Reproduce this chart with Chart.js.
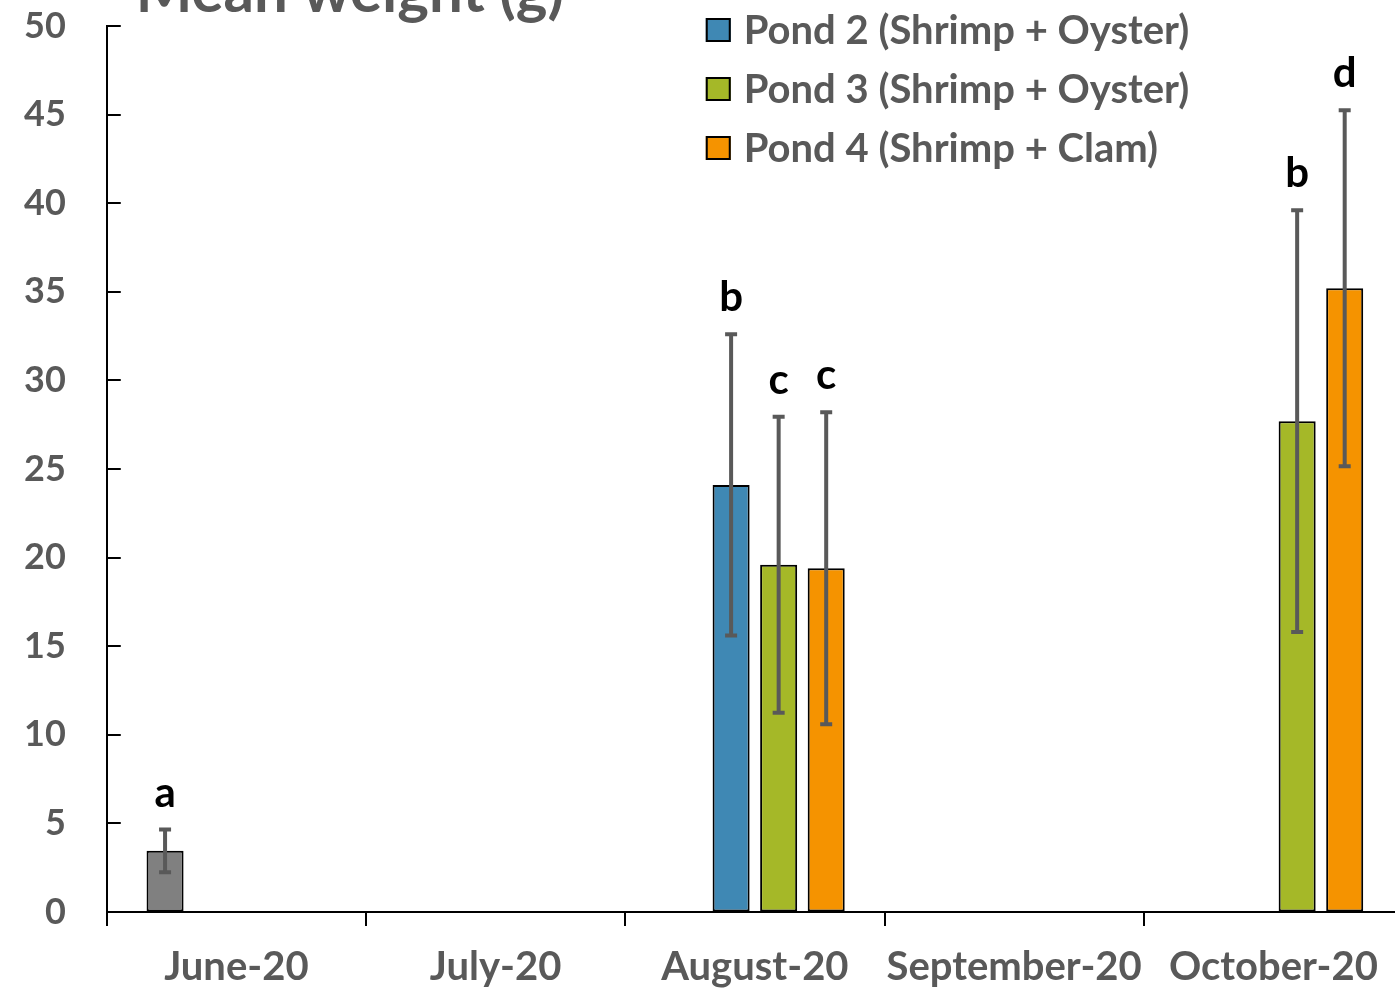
<!DOCTYPE html>
<html>
<head>
<meta charset="utf-8">
<script src="https://cdn.jsdelivr.net/npm/chart.js@4.4.1/dist/chart.umd.min.js"></script>
<style>
  html, body { margin: 0; padding: 0; overflow: hidden; background: #fff; }
  #wrap { position: absolute; left: 0; top: 0; width: 1410px; height: 1013px; }
</style>
</head>
<body>
<div id="wrap"><canvas id="c"></canvas></div>
<script>
// Sampling months
const months = ['June-20', 'July-20', 'August-20', 'September-20', 'October-20'];

// Mean shrimp weight (g) per pond and month, with standard deviations
const initialWeight = [3.45, null, null, null, null];
const initialSd     = [1.2,  null, null, null, null];
const pond2Weight   = [null, null, 24.1, null, null];
const pond2Sd       = [null, null, 8.5,  null, null];
const pond3Weight   = [null, null, 19.6, null, 27.7];
const pond3Sd       = [null, null, 8.35, null, 11.9];
const pond4Weight   = [null, null, 19.4, null, 35.2];
const pond4Sd       = [null, null, 8.8,  null, 10.05];

// Significance letters shown over each bar
const initialLetters = ['a', '', '', '', ''];
const pond2Letters   = ['', '', 'b', '', ''];
const pond3Letters   = ['', '', 'c', '', 'b'];
const pond4Letters   = ['', '', 'c', '', 'd'];

const pondNames = ['Pond 2 (Shrimp + Oyster)', 'Pond 3 (Shrimp + Oyster)', 'Pond 4 (Shrimp + Clam)'];

const FONT = 'Lato, "DejaVu Sans", sans-serif';
const GREY_TEXT = '#595959';

// Error bars and letters, placed from each bar's own element and the y scale
const errorBarPlugin = {
  id: 'errorBars',
  afterDatasetsDraw(chart) {
    const ctx = chart.ctx;
    const y = chart.scales.y;
    chart.data.datasets.forEach((ds, i) => {
      const meta = chart.getDatasetMeta(i);
      ds.data.forEach((v, j) => {
        if (v == null) return;
        const sd = ds.sd[j];
        const x = meta.data[j].x;
        const top = y.getPixelForValue(v + sd);
        const bot = y.getPixelForValue(v - sd);
        ctx.save();
        ctx.strokeStyle = '#595959';
        ctx.lineWidth = 4;
        ctx.beginPath();
        ctx.moveTo(x, top); ctx.lineTo(x, bot);
        ctx.moveTo(x - 6, top); ctx.lineTo(x + 6, top);
        ctx.moveTo(x - 6, bot); ctx.lineTo(x + 6, bot);
        ctx.stroke();
        const letter = ds.letters[j];
        if (letter) {
          ctx.fillStyle = '#000';
          ctx.font = 'bold 42px ' + FONT;
          ctx.textAlign = 'center';
          ctx.textBaseline = 'alphabetic';
          ctx.fillText(letter, x, top - 23);
        }
        ctx.restore();
      });
    });
  }
};

// Inward y ticks, the axis title and the boxed legend in the upper right of the plot
const decorPlugin = {
  id: 'decor',
  afterDraw(chart) {
    const ctx = chart.ctx;
    const area = chart.chartArea;
    const y = chart.scales.y;
    ctx.save();
    ctx.strokeStyle = '#000';
    ctx.lineWidth = 2;
    ctx.beginPath();
    y.ticks.forEach((t, i) => {
      const py = Math.round(y.getPixelForTick(i));
      ctx.moveTo(area.left, py);
      ctx.lineTo(area.left + 14, py);
    });
    ctx.stroke();

    ctx.fillStyle = GREY_TEXT;
    ctx.font = 'bold 60px ' + FONT;
    ctx.textAlign = 'left';
    ctx.textBaseline = 'alphabetic';
    ctx.fillText('Mean weight (g)', area.left + 29, area.top - 14);

    const lx = area.left + 599;
    chart.data.datasets.forEach((ds) => {
      if (!ds.inLegend) return;
      const cy = area.top + 4 + ds.legendRow * 59;
      ctx.fillStyle = ds.backgroundColor;
      ctx.fillRect(lx, cy - 12, 25, 24);
      ctx.strokeStyle = '#000';
      ctx.lineWidth = 2;
      ctx.strokeRect(lx + 1, cy - 11, 23, 22);
      ctx.fillStyle = GREY_TEXT;
      ctx.font = 'bold 40px ' + FONT;
      ctx.textBaseline = 'middle';
      ctx.fillText(ds.label, lx + 38, cy + 1);
    });
    ctx.restore();
  }
};

const barStyle = { borderColor: '#000', borderWidth: 2, borderSkipped: false,
                   categoryPercentage: 0.7336, barPercentage: 0.779 };

new Chart(document.getElementById('c'), {
  type: 'bar',
  data: {
    labels: months,
    datasets: [
      Object.assign({ label: 'Initial', data: initialWeight, sd: initialSd, letters: initialLetters,
        backgroundColor: '#808080', inLegend: false }, barStyle),
      Object.assign({ label: pondNames[0], data: pond2Weight, sd: pond2Sd, letters: pond2Letters,
        backgroundColor: '#3F88B4', inLegend: true, legendRow: 0 }, barStyle),
      Object.assign({ label: pondNames[1], data: pond3Weight, sd: pond3Sd, letters: pond3Letters,
        backgroundColor: '#A5B828', inLegend: true, legendRow: 1 }, barStyle),
      Object.assign({ label: pondNames[2], data: pond4Weight, sd: pond4Sd, letters: pond4Letters,
        backgroundColor: '#F59300', inLegend: true, legendRow: 2 }, barStyle)
    ]
  },
  options: {
    responsive: true,
    maintainAspectRatio: false,
    animation: false,
    layout: { padding: { left: 24, right: 7, top: 26, bottom: 5 } },
    plugins: { legend: { display: false }, title: { display: false }, tooltip: { enabled: false } },
    scales: {
      x: {
        grid: { offset: true, drawOnChartArea: false, drawTicks: true, tickLength: 14, color: '#000', lineWidth: 2 },
        border: { display: true, color: '#000', width: 2 },
        ticks: { color: GREY_TEXT, font: { family: FONT, size: 40, weight: 'bold' }, padding: 17,
                 maxRotation: 0, autoSkip: false }
      },
      y: {
        min: 0, max: 50,
        grid: { drawOnChartArea: false, drawTicks: true, tickLength: 41, color: 'rgba(0,0,0,0)' },
        border: { display: true, color: '#000', width: 2 },
        ticks: { stepSize: 5, color: GREY_TEXT, font: { family: FONT, size: 36, weight: 'bold' }, padding: 0 }
      }
    }
  },
  plugins: [errorBarPlugin, decorPlugin]
});
</script>
</body>
</html>
